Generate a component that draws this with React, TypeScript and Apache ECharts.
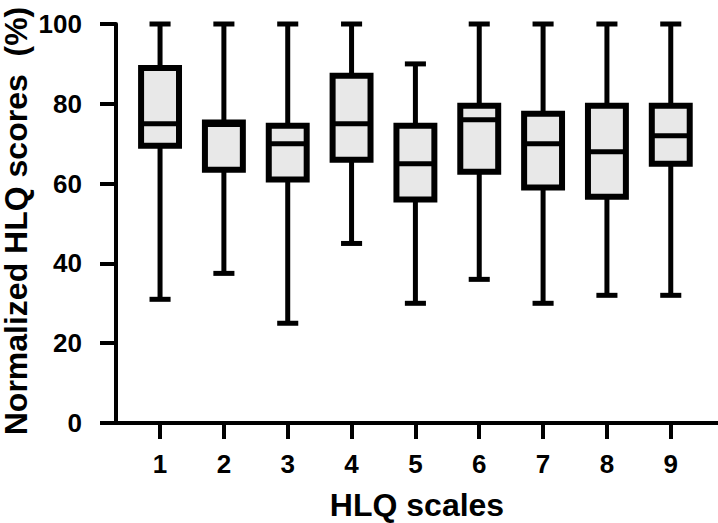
import React, { useEffect, useRef } from "react";
import * as echarts from "echarts";

const scales = [1, 2, 3, 4, 5, 6, 7, 8, 9];
const mins = [31, 37.5, 25, 45, 30, 36, 30, 32, 32];
const q1s = [69.5, 63.5, 61, 66, 56, 63, 59, 56.7, 65];
const medians = [75, 74.8, 70, 75, 65, 76, 70, 68, 72];
const q3s = [89, 75.3, 74.5, 87, 74.5, 79.5, 77.5, 79.5, 79.5];
const maxs = [100, 100, 100, 100, 90, 100, 100, 100, 100];
const yTicks = [0, 20, 40, 60, 80, 100];
const xTitle = "HLQ scales";
const yTitle = "Normalized HLQ scores  (%)";

const FONT = "'Liberation Sans', Arial, Helvetica, sans-serif";

export default function App() {
  const ref = useRef<HTMLDivElement>(null);
  useEffect(() => {
    if (!ref.current) return;
    const chart = echarts.init(ref.current, null, { renderer: "svg" });
    const data = scales.map((s, i) => [s, mins[i], q1s[i], medians[i], q3s[i], maxs[i]]);
    chart.setOption({
      animation: false,
      grid: {
        left: 116,
        right: 0,
        top: 24,
        bottom: 100,
        containLabel: false,
        outerBoundsMode: "none",
      },
      graphic: [
        {
          type: "text",
          x: 417,
          y: 505,
          style: {
            text: xTitle,
            fontFamily: FONT,
            fontWeight: "bold",
            fontSize: 32,
            fill: "#000",
            align: "center",
            verticalAlign: "middle",
          },
        },
        {
          type: "text",
          x: 16,
          y: 221,
          rotation: Math.PI / 2,
          style: {
            text: yTitle,
            fontFamily: FONT,
            fontWeight: "bold",
            fontSize: 32,
            fill: "#000",
            align: "center",
            verticalAlign: "middle",
          },
        },
      ],
      xAxis: {
        type: "value",
        min: 0.31,
        max: 9.74,
        axisLine: { show: true, lineStyle: { color: "#000", width: 4 } },
        axisTick: { show: true, length: 16, lineStyle: { color: "#000", width: 4 }, customValues: scales },
        axisLabel: {
          customValues: scales,
          margin: 28,
          fontFamily: FONT,
          fontWeight: "bold",
          fontSize: 26,
          color: "#000",
        },
        splitLine: { show: false },
      },
      yAxis: {
        type: "value",
        min: 0,
        max: 100,
        interval: 20,
        axisLine: { show: true, lineStyle: { color: "#000", width: 4 } },
        axisTick: { show: true, length: 16, lineStyle: { color: "#000", width: 4 } },
        axisLabel: {
          margin: 34,
          fontFamily: FONT,
          fontWeight: "bold",
          fontSize: 26,
          color: "#000",
          formatter: (v: number) => (yTicks.includes(v) ? String(v) : ""),
        },
        splitLine: { show: false },
      },
      series: [
        {
          type: "custom",
          data,
          encode: { x: 0, y: [1, 2, 3, 4, 5] },
          renderItem: (params: any, api: any) => {
            const x = api.value(0);
            const p = (v: number) => api.coord([x, v]);
            const cx = p(api.value(1))[0];
            const yMin = p(api.value(1))[1];
            const yQ1 = p(api.value(2))[1];
            const yMed = p(api.value(3))[1];
            const yQ3 = p(api.value(4))[1];
            const yMax = p(api.value(5))[1];
            const unit = api.size([1, 0])[0];
            const halfW = unit * 0.297;
            const capW = unit * 0.165;
            const ls = { stroke: "#000", lineWidth: 5, fill: "none" };
            return {
              type: "group",
              children: [
                { type: "line", shape: { x1: cx, y1: yMax, x2: cx, y2: yQ3 }, style: ls },
                { type: "line", shape: { x1: cx, y1: yQ1, x2: cx, y2: yMin }, style: ls },
                { type: "line", shape: { x1: cx - capW, y1: yMax, x2: cx + capW, y2: yMax }, style: ls },
                { type: "line", shape: { x1: cx - capW, y1: yMin, x2: cx + capW, y2: yMin }, style: ls },
                {
                  type: "rect",
                  shape: { x: cx - halfW, y: yQ3, width: halfW * 2, height: yQ1 - yQ3 },
                  style: { fill: "#e8e8e8", stroke: "#000", lineWidth: 6 },
                },
                { type: "line", shape: { x1: cx - halfW, y1: yMed, x2: cx + halfW, y2: yMed }, style: ls },
              ],
            };
          },
        },
      ],
    });
    return () => chart.dispose();
  }, []);
  return (
    <div
      ref={ref}
      style={{ position: "absolute", left: 0, top: 0, width: 718, height: 523 }}
    />
  );
}
